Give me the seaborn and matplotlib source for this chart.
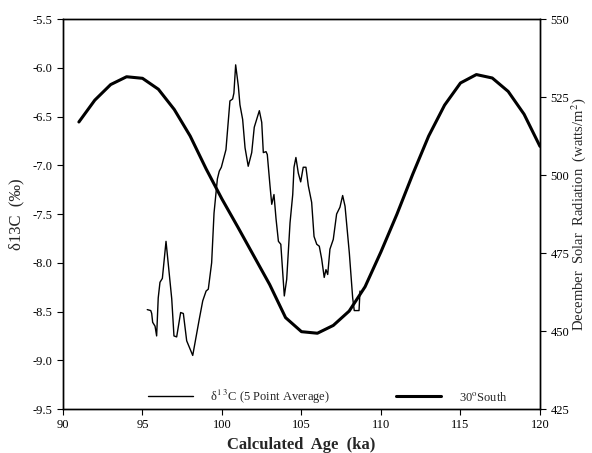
import numpy as np
import pandas as pd
import matplotlib
matplotlib.use("Agg")
import matplotlib.pyplot as plt
import seaborn as sns

# December insolation at 30 South (watts/m2)
solar_age = [91, 92, 93, 94, 95, 96, 97, 98, 99, 100,
             101, 102, 103, 104, 105, 106, 107, 108, 109, 110,
             111, 112, 113, 114, 115, 116, 117, 118, 119, 120]
solar_rad = [517, 524, 529, 531.5, 531, 527.5, 521, 512.5, 502, 492.3,
             483.3, 474.1, 464.9, 454.3, 449.8, 449.3, 451.8, 456.4, 464.2, 475.4,
             487.4, 500.3, 512.5, 522.4, 529.5, 532.2, 531.1, 526.8, 519.5, 509.2]

# delta 13C, 5 point average
d13c_age = [95.30, 95.52, 95.58, 95.64, 95.79, 95.89, 95.99, 96.10, 96.25, 96.48,
            96.84, 96.98, 97.15, 97.40, 97.57, 97.78, 98.16, 98.57, 98.79, 99.00,
            99.14, 99.35, 99.50, 99.71, 99.83, 99.96, 100.25, 100.50, 100.67, 100.75,
            100.86, 101.03, 101.13, 101.30, 101.45, 101.65, 101.87, 102.03, 102.18, 102.35,
            102.50, 102.60, 102.77, 102.85, 103.02, 103.13, 103.27, 103.40, 103.55, 103.70,
            103.92, 104.07, 104.28, 104.45, 104.53, 104.65, 104.80, 104.95, 105.11, 105.28,
            105.43, 105.64, 105.79, 105.96, 106.12, 106.27, 106.43, 106.54, 106.65, 106.79,
            107.00, 107.21, 107.42, 107.59, 107.74, 108.01, 108.22, 108.32, 108.62, 108.68]
d13c_val = [-8.48, -8.49, -8.52, -8.61, -8.65, -8.75, -8.36, -8.20, -8.16, -7.78,
            -8.37, -8.75, -8.76, -8.51, -8.52, -8.80, -8.95, -8.58, -8.39, -8.29,
            -8.27, -8.00, -7.49, -7.14, -7.06, -7.02, -6.84, -6.34, -6.32, -6.26,
            -5.97, -6.19, -6.38, -6.53, -6.82, -7.01, -6.87, -6.61, -6.53, -6.44,
            -6.56, -6.87, -6.86, -6.89, -7.21, -7.40, -7.30, -7.55, -7.78, -7.81,
            -8.34, -8.17, -7.59, -7.30, -7.02, -6.92, -7.08, -7.17, -7.02, -7.02,
            -7.21, -7.38, -7.73, -7.81, -7.83, -7.96, -8.15, -8.07, -8.12, -7.86,
            -7.76, -7.50, -7.43, -7.31, -7.42, -7.90, -8.36, -8.49, -8.49, -8.29]

xticks = [90, 95, 100, 105, 110, 115, 120]
left_ticks = [-5.5, -6.0, -6.5, -7.0, -7.5, -8.0, -8.5, -9.0, -9.5]
right_ticks = [550, 525, 500, 475, 450, 425]

df_c = pd.DataFrame({"age": d13c_age, "d13c": d13c_val})
df_s = pd.DataFrame({"age": solar_age, "rad": solar_rad})

sns.set_style("ticks")
plt.rcParams["font.family"] = ["Liberation Serif", "DejaVu Serif"]
plt.rcParams["mathtext.fontset"] = "stix"
plt.rcParams["axes.unicode_minus"] = False

fig = plt.figure(figsize=(5.92, 4.53), dpi=100)
ax = fig.add_axes([0.1064, 0.097, 0.8057, 0.861])
ax2 = ax.twinx()

sns.lineplot(data=df_c, x="age", y="d13c", ax=ax, color="black", linewidth=1.0,
             sort=False, label=r"δ$^{1\ 3}$C (5 Point Average)", legend=False)
sns.lineplot(data=df_s, x="age", y="rad", ax=ax2, color="black", linewidth=2.2,
             label=r"30$^{\mathrm{o}}$South", legend=False)

ax.set_xlim(90, 120)
ax.set_ylim(-9.5, -5.5)
ax2.set_ylim(425, 550)
ax.set_xticks(xticks)
ax.set_yticks(left_ticks)
ax2.set_yticks(right_ticks)
ax.set_yticklabels([f"{t:.1f}" for t in left_ticks])

for a in (ax, ax2):
    for s in a.spines.values():
        s.set_linewidth(1.0)
        s.set_color("black")
    a.tick_params(labelsize=9, length=4, width=0.8, colors="black")

ax.set_xlabel("Calculated  Age  (ka)", fontsize=12, fontweight="bold", labelpad=4)
ax.set_ylabel("δ13C  (‰)", fontsize=12, labelpad=6)
ax2.set_ylabel("December  Solar  Radiation  (watts/m$^2$)", fontsize=10.5)
ax2.yaxis.set_label_coords(1.062, 0.5)

h1, l1 = ax.get_legend_handles_labels()
h2, l2 = ax2.get_legend_handles_labels()
ax2.legend(h1 + h2, l1 + l2, loc="lower center", bbox_to_anchor=(0.555, -0.02),
           ncol=2, frameon=False, fontsize=9, handlelength=3.6,
           columnspacing=5.3, handletextpad=1.4)

fig.savefig("out.png", dpi=100)
